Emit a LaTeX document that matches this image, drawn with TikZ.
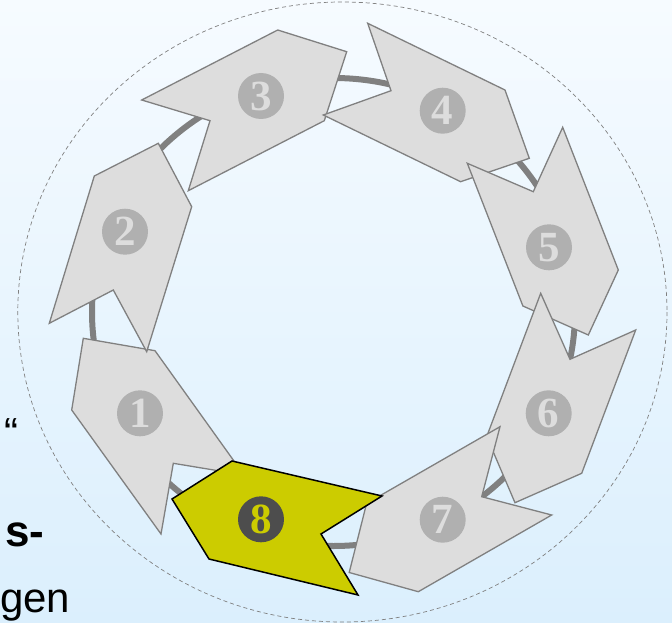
\documentclass[tikz,border=0pt]{standalone}
\usepackage{fontspec}
\setmainfont{Liberation Serif}
\newfontfamily\sansfont{Liberation Sans}
\newfontfamily\numfont{Liberation Serif}[BoldFont={Liberation Serif Bold}]
\definecolor{bgtop}{RGB}{246,251,255}
\definecolor{bgbot}{RGB}{219,239,253}
\definecolor{chevgray}{RGB}{221,221,221}
\definecolor{edgegray}{RGB}{128,128,128}
\definecolor{numgray}{RGB}{176,176,176}
\definecolor{olivey}{RGB}{204,204,0}
\definecolor{darknum}{RGB}{77,77,77}
\tikzset{
  chev/.style={fill=chevgray, draw=edgegray, line width=1.3pt, line join=miter},
  chevhi/.style={fill=olivey, draw=black, line width=1.5pt, line join=miter},
  numc/.style={circle, fill=numgray, minimum size=46pt, inner sep=0pt, text=chevgray,
    font=\numfont\bfseries\fontsize{43}{43}\selectfont},
  numhi/.style={numc, fill=darknum, text=olivey},
  ringline/.style={draw=edgegray, line width=6pt},
  outerdash/.style={draw=edgegray, line width=0.7pt, dash pattern=on 4pt off 3pt},
  sidetext/.style={inner sep=0pt, text=black, font=\sansfont\fontsize{42}{48}\selectfont}
}
\begin{document}
\begin{tikzpicture}[x=1pt, y=-1pt]
\useasboundingbox (0,0) rectangle (672,623);
\clip (0,0) rectangle (672,623);
\fill[top color=bgtop, bottom color=bgbot] (0,0) rectangle (672,623);

% outer dashed ellipse
\draw[outerdash] (342.4,312) ellipse [x radius=324.6, y radius=310];

% left-side text fragments
\node[sidetext, anchor=base east] (q) at (19,447) {“};
\node[sidetext, anchor=base west, font=\sansfont\bfseries\fontsize{44}{48}\selectfont] (ss) at (5,546) {s-};
\node[sidetext, anchor=base west] (gen) at (0,612) {gen};

% ring
\draw[ringline] (333.5,312) ellipse [x radius=241.5, y radius=234];

% arrow 1
\draw[chev] (83.3,338.3) -- (155,350.7) -- (244,475) -- (173.3,463.3) -- (161,534) -- (71.7,410) -- cycle;
\node[numc] (n1) at (140,413.3) {1};
% arrow 2
\draw[chev] (158.3,143.3) -- (191.7,206.7) -- (146.7,351.7) -- (113.3,290) -- (49.3,323.3) -- (94.3,176) -- cycle;
\node[numc] (n2) at (125,231.7) {2};
% arrow 3
\draw[chev] (141.7,100) -- (277.7,30) -- (346.7,51.7) -- (324.3,120.7) -- (188.3,190.7) -- (210,120.7) -- cycle;
\node[numc] (n3) at (261,96) {3};
% arrow 4
\draw[chev] (367.7,23.3) -- (505,90) -- (529.3,158.3) -- (460.6,181.7) -- (323.3,115) -- (391,90.7) -- cycle;
\node[numc] (n4) at (442.7,110.7) {4};
% arrow 5
\draw[chev] (562.7,127.3) -- (618.3,270) -- (588.3,335) -- (522.9,306) -- (467.3,163.3) -- (533.3,191.7) -- cycle;
\node[numc] (n5) at (549,247.3) {5};
% arrow 6
\draw[chev] (635.7,330) -- (581.7,473.3) -- (515,502.7) -- (486.7,436.6) -- (540.7,293.3) -- (570,359.3) -- cycle;
\node[numc] (n6) at (548.7,413.3) {6};
% arrow 7
\draw[chev] (500,426.7) -- (481.7,496.7) -- (551.7,515) -- (418.3,591.7) -- (349.2,572.5) -- (366.6,503.4) -- cycle;
\node[numc] (n7) at (442.7,519.7) {7};
% arrow 8 (highlighted)
\draw[chevhi] (232,461) -- (382,496) -- (321,534) -- (358,595) -- (209,559) -- (172,499) -- cycle;
\node[numhi] (n8) at (261,519.3) {8};
\end{tikzpicture}
\end{document}
